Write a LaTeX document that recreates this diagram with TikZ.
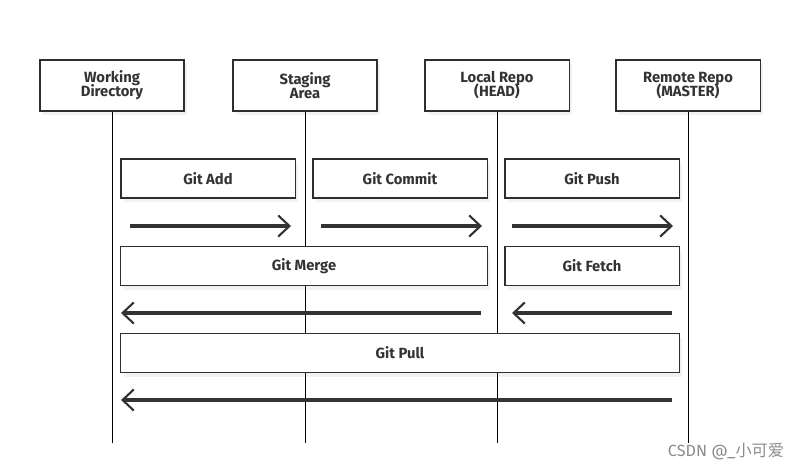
\documentclass[tikz,border=0pt]{standalone}
\usepackage{fontspec}
\setmainfont{Fira Sans}
\newfontfamily\cjkfont{Noto Sans CJK SC}
\usetikzlibrary{arrows.meta,shadows}
\definecolor{ink}{HTML}{333333}
\tikzset{
  box/.style={draw=ink!90!black,line width=0.75pt,fill=white,inner sep=0pt,align=center,
    text=ink,font={\fontsize{10.5}{10}\selectfont\bfseries\lineskiplimit=-5pt\relax},
    drop shadow={opacity=0.1,shadow xshift=2pt,shadow yshift=-3pt}},
  headbox/.style={box,minimum width=3.6cm,minimum height=1.275cm},
  opbox/.style={box,minimum height=0.975cm},
  lifeline/.style={draw=black,line width=0.6pt},
  flow/.style={draw=ink,line width=2.2pt,-{Straight Barb[length=8pt,width=15pt,line width=1.5pt]}}
}
\begin{document}
\begin{tikzpicture}[x=0.025cm,y=-0.025cm]
\useasboundingbox (0,0) rectangle (800,470);
% participants
\node (wd) at (112,85.5) [headbox]{Working\\Directory};
\node (sa) at (305,85.5) [headbox]{Staging\\Area};
\node (lr) at (497,85.5) [headbox]{Local Repo\\(HEAD)};
\node (rr) at (688,85.5) [headbox]{Remote Repo\\(MASTER)};
% lifelines
\coordinate (wd-end) at (112,443);
\coordinate (sa-end) at (305,443);
\coordinate (lr-end) at (497,443);
\coordinate (rr-end) at (688,443);
\draw[lifeline] (wd.south) -- (wd-end);
\draw[lifeline] (sa.south) -- (sa-end);
\draw[lifeline] (lr.south) -- (lr-end);
\draw[lifeline] (rr.south) -- (rr-end);
% operations
\node (add) at (208,178.5) [opbox,minimum width=4.35cm]{Git Add};
\node (commit) at (400,178.5) [opbox,minimum width=4.35cm]{Git Commit};
\node (push) at (592,178.5) [opbox,minimum width=4.35cm]{Git Push};
\node (merge) at (304,266) [opbox,minimum width=9.15cm]{Git Merge};
\node (fetch) at (592,266) [opbox,minimum width=4.35cm]{Git Fetch};
\node (pull) at (400,353) [opbox,minimum width=13.95cm]{Git Pull};
% arrows
\coordinate (a1) at (130,226); \coordinate (b1) at (291,226);
\coordinate (a2) at (321,226); \coordinate (b2) at (482,226);
\coordinate (a3) at (512,226); \coordinate (b3) at (673,226);
\coordinate (a4) at (481,313); \coordinate (b4) at (121,313);
\coordinate (a5) at (672,313); \coordinate (b5) at (512,313);
\coordinate (a6) at (672,400); \coordinate (b6) at (121,400);
\draw[flow] (a1) -- (b1);
\draw[flow] (a2) -- (b2);
\draw[flow] (a3) -- (b3);
\draw[flow] (a4) -- (b4);
\draw[flow] (a5) -- (b5);
\draw[flow] (a6) -- (b6);
\node (mark) at (726,452) [text=black!45,font=\fontsize{11.5}{12}\selectfont]{CSDN @\_{\cjkfont 小可爱}};
\end{tikzpicture}
\end{document}
